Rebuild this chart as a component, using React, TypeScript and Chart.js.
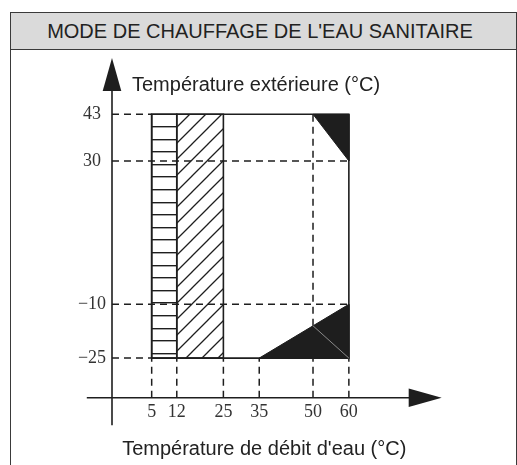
import React, { useEffect, useRef } from "react";
import { Chart, registerables } from "chart.js";

Chart.register(...registerables);

// ---------- text ----------
const TITLE = "MODE DE CHAUFFAGE DE L'EAU SANITAIRE";
const Y_TITLE = "Température extérieure (°C)";
const X_TITLE = "Température de débit d'eau (°C)";

// ---------- tick labels ----------
const X_TICKS = [5, 12, 25, 35, 50, 60];
const Y_TICKS = [43, 30, -10, -25];

// ---------- operating zones: [water flow temp, outdoor temp] ----------
const ZONE_HORIZONTAL_HATCH = [[5, -25], [5, 43], [12, 43], [12, -25], [5, -25]];
const ZONE_DIAGONAL_HATCH = [[12, -25], [12, 43], [25, 43], [25, -25], [12, -25]];
const ZONE_OUTLINE = [[5, -25], [5, 43], [60, 43], [60, -25], [5, -25]];
const ZONE_TOP_BLACK = [[50, 43], [60, 43], [60, 30], [50, 43]];
const ZONE_BOTTOM_BLACK = [[35, -25], [60, -10], [60, -25], [35, -25]];
const BOTTOM_INNER_LINE = [[50, -16], [60, -25]];

// ---------- dashed guides ----------
const H_GUIDE_Y = [43, 30, -10, -25];
const H_GUIDE_END = [5, 60, 60, 5];
const V_GUIDE_X = [5, 12, 25, 35, 50, 60];
const V_GUIDE_END = [-25, -25, -25, -25, 43, -25];

// ---------- axis placement (in data units) ----------
const AXIS_AT_X = -6.07; // where the vertical axis stands
const AXIS_AT_Y = -36.08; // where the horizontal axis lies
const Y_AXIS_BOTTOM = -43.7;
const Y_AXIS_TIP = 58.7;
const X_AXIS_LEFT = -13.1;
const X_AXIS_TIP = 85.9;

// visible window of the scales
const X_MIN = -37.31;
const X_MAX = 106.9;
const Y_MIN = -54.82;
const Y_MAX = 74.88;

const INK = "#1e1e1e";

const pts = (arr: number[][]) => arr.map(([x, y]) => ({ x, y }));

function makeHPattern(ctx: CanvasRenderingContext2D) {
  const c = document.createElement("canvas");
  c.width = 8;
  c.height = 63;
  const g = c.getContext("2d")!;
  g.fillStyle = INK;
  [0, 13, 25, 38, 50].forEach((y) => g.fillRect(0, y, 8, 1.4));
  return ctx.createPattern(c, "repeat")!;
}

function makeDPattern(ctx: CanvasRenderingContext2D) {
  const s = 16;
  const c = document.createElement("canvas");
  c.width = s;
  c.height = s;
  const g = c.getContext("2d")!;
  g.strokeStyle = INK;
  g.lineWidth = 1.3;
  g.beginPath();
  g.moveTo(-2, s + 2);
  g.lineTo(s + 2, -2);
  g.moveTo(-2, 2);
  g.lineTo(2, -2);
  g.moveTo(s - 2, s + 2);
  g.lineTo(s + 2, s - 2);
  g.stroke();
  return ctx.createPattern(c, "repeat")!;
}

const axesPlugin = {
  id: "schematicAxes",
  afterDatasetsDraw(chart: any) {
    const { ctx } = chart;
    const xs = chart.scales.x;
    const ys = chart.scales.y;
    const ax = xs.getPixelForValue(AXIS_AT_X);
    const ay = ys.getPixelForValue(AXIS_AT_Y);
    const yTip = ys.getPixelForValue(Y_AXIS_TIP);
    const yBottom = ys.getPixelForValue(Y_AXIS_BOTTOM);
    const xLeft = xs.getPixelForValue(X_AXIS_LEFT);
    const xTip = xs.getPixelForValue(X_AXIS_TIP);
    const arrowLen = 33;
    const arrowHalf = 9.3;

    ctx.save();
    ctx.strokeStyle = INK;
    ctx.fillStyle = INK;
    ctx.lineWidth = 1.6;
    // vertical axis
    ctx.beginPath();
    ctx.moveTo(ax, yBottom);
    ctx.lineTo(ax, yTip + arrowLen - 1);
    ctx.stroke();
    ctx.beginPath();
    ctx.moveTo(ax, yTip);
    ctx.lineTo(ax + arrowHalf, yTip + arrowLen);
    ctx.lineTo(ax - arrowHalf, yTip + arrowLen);
    ctx.closePath();
    ctx.fill();
    // horizontal axis
    ctx.beginPath();
    ctx.moveTo(xLeft, ay);
    ctx.lineTo(xTip - arrowLen + 1, ay);
    ctx.stroke();
    ctx.beginPath();
    ctx.moveTo(xTip, ay);
    ctx.lineTo(xTip - arrowLen, ay - arrowHalf);
    ctx.lineTo(xTip - arrowLen, ay + arrowHalf);
    ctx.closePath();
    ctx.fill();

    // tick labels
    ctx.fillStyle = "#333";
    ctx.font = '18px "Liberation Serif", "DejaVu Serif", serif';
    ctx.textAlign = "center";
    ctx.textBaseline = "middle";
    X_TICKS.forEach((v) => {
      ctx.fillText(String(v), xs.getPixelForValue(v), ay + 14);
    });
    Y_TICKS.forEach((v) => {
      const s = v < 0 ? "\u2212" + Math.abs(v) : String(v);
      ctx.fillText(s, ax - 20, ys.getPixelForValue(v));
    });

    // axis titles
    ctx.fillStyle = "#222";
    ctx.font = '20px "Liberation Sans", Arial, sans-serif';
    ctx.textBaseline = "alphabetic";
    ctx.textAlign = "left";
    ctx.fillText(Y_TITLE, ax + 20, yTip + 32.5);
    ctx.textAlign = "center";
    ctx.fillText(X_TITLE, (xLeft + xTip) / 2, ay + 57);
    ctx.restore();
  },
};

export default function App() {
  const ref = useRef<HTMLCanvasElement>(null);

  useEffect(() => {
    const canvas = ref.current!;
    const ctx = canvas.getContext("2d")!;
    const hPat = makeHPattern(ctx);
    const dPat = makeDPattern(ctx);

    const base = {
      showLine: true,
      pointRadius: 0,
      pointHoverRadius: 0,
      tension: 0,
    };

    const datasets: any[] = [];

    H_GUIDE_Y.forEach((y, i) => {
      datasets.push({
        ...base,
        label: "h" + y,
        data: pts([[AXIS_AT_X, y], [H_GUIDE_END[i], y]]),
        borderColor: INK,
        borderWidth: 1.5,
        borderDash: [7, 5],
        fill: false,
        order: 10,
      });
    });
    V_GUIDE_X.forEach((x, i) => {
      datasets.push({
        ...base,
        label: "v" + x,
        data: pts([[x, AXIS_AT_Y], [x, V_GUIDE_END[i]]]),
        borderColor: INK,
        borderWidth: 1.5,
        borderDash: [7, 5],
        fill: false,
        order: 10,
      });
    });

    datasets.push({
      ...base,
      label: "outline",
      data: pts(ZONE_OUTLINE),
      borderColor: INK,
      borderWidth: 1.6,
      fill: false,
      order: 6,
    });
    datasets.push({
      ...base,
      label: "horizontal hatch",
      data: pts(ZONE_HORIZONTAL_HATCH),
      borderColor: INK,
      borderWidth: 1.6,
      backgroundColor: hPat,
      fill: "shape",
      order: 5,
    });
    datasets.push({
      ...base,
      label: "diagonal hatch",
      data: pts(ZONE_DIAGONAL_HATCH),
      borderColor: INK,
      borderWidth: 1.6,
      backgroundColor: dPat,
      fill: "shape",
      order: 4,
    });
    datasets.push({
      ...base,
      label: "top black",
      data: pts(ZONE_TOP_BLACK),
      borderColor: INK,
      borderWidth: 1,
      backgroundColor: INK,
      fill: "shape",
      order: 3,
    });
    datasets.push({
      ...base,
      label: "bottom black",
      data: pts(ZONE_BOTTOM_BLACK),
      borderColor: INK,
      borderWidth: 1,
      backgroundColor: INK,
      fill: "shape",
      order: 3,
    });
    datasets.push({
      ...base,
      label: "inner",
      data: pts(BOTTOM_INNER_LINE),
      borderColor: "#8a8a8a",
      borderWidth: 1,
      fill: false,
      order: 1,
    });

    const chart = new Chart(ctx, {
      type: "scatter",
      data: { datasets },
      options: {
        responsive: false,
        animation: false,
        events: [],
        layout: { padding: 0 },
        plugins: {
          legend: { display: false },
          tooltip: { enabled: false },
          title: { display: false },
        },
        scales: {
          x: { type: "linear", min: X_MIN, max: X_MAX, display: false },
          y: { type: "linear", min: Y_MIN, max: Y_MAX, display: false },
        },
      },
      plugins: [axesPlugin],
    } as any);

    return () => chart.destroy();
  }, []);

  const border = "1.5px solid #3a3a3a";
  return (
    <>
      <div
        style={{
          position: "fixed",
          left: 10,
          top: 12,
          width: 507,
          height: 453,
          boxSizing: "border-box",
          borderLeft: border,
          borderTop: border,
          borderRight: border,
          background: "#fff",
        }}
      >
        <div
          style={{
            height: 37,
            boxSizing: "border-box",
            background: "#dadada",
            borderBottom: border,
            display: "flex",
            alignItems: "center",
            justifyContent: "center",
            paddingRight: 7,
            font: '20px "Liberation Sans", Arial, sans-serif',
            color: "#222",
            whiteSpace: "nowrap",
          }}
        >
          {TITLE}
        </div>
      </div>
      <canvas
        ref={ref}
        width={517}
        height={465}
        style={{ position: "fixed", left: 0, top: 0, width: 517, height: 465 }}
      />
    </>
  );
}
